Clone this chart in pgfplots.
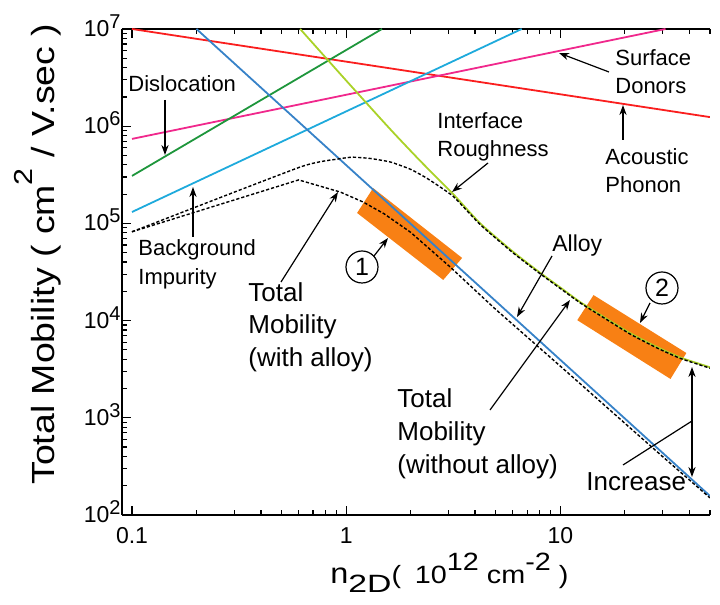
\documentclass[border=0pt]{standalone}
\usepackage{fontspec}
\setmainfont{Liberation Sans}
\usepackage{pgfplots}
\pgfplotsset{compat=1.18}
\usetikzlibrary{arrows.meta}
\definecolor{cRed}{RGB}{250,30,30}
\definecolor{cPink}{RGB}{240,40,140}
\definecolor{cGreen}{RGB}{30,150,60}
\definecolor{cCyan}{RGB}{30,170,220}
\definecolor{cBlue}{RGB}{55,130,200}
\definecolor{cYG}{RGB}{170,210,40}
\definecolor{cOrange}{RGB}{248,128,20}
\newcommand\tl[1]{10\raisebox{4pt}{\fontsize{10}{10}\selectfont #1}}
\begin{document}
\begin{tikzpicture}
\path (-61pt,-45pt) rectangle (299pt,257.5pt);
\begin{axis}[
  xmode=log, ymode=log,
  scale only axis, width=294pt, height=243pt,
  at={(0,0)}, anchor=south west,
  xmin=0.0898, xmax=50, ymin=100, ymax=1e7,
  axis x line*=box, axis y line*=left,
  axis line style={line width=0.8pt},
  xtick={0.1,1,10}, xticklabels={0.1,1,10},
  minor xtick={0.2,0.3,0.4,0.5,0.6,0.7,0.8,0.9,2,3,4,5,6,7,8,9,20,30,40,50},
  ytick={1e2,1e3,1e4,1e5,1e6,1e7},
  yticklabels={\tl{2},\tl{3},\tl{4},\tl{5},\tl{6},\tl{7}},
  minor ytick={200,300,400,500,600,700,800,900,
    2000,3000,4000,5000,6000,7000,8000,9000,
    20000,30000,40000,50000,60000,70000,80000,90000,
    200000,300000,400000,500000,600000,700000,800000,900000,
    2000000,3000000,4000000,5000000,6000000,7000000,8000000,9000000},
  tick align=inside,
  major tick length=4.5pt, minor tick length=2.5pt,
  tick style={line width=0.6pt, black},
  ticklabel style={font=\fontsize{11.5}{13}\selectfont},
  xticklabel style={anchor=north, inner sep=0pt, yshift=-6pt},
  yticklabel style={anchor=base east, inner sep=0pt, xshift=-0.5pt, yshift=-3.75pt},
]
% orange regions
\addplot[fill=cOrange, draw=none] coordinates {(1.336,2.31e5) (3.48,4.41e4) (2.84,2.62e4) (1.125,1.28e5)} -- cycle;
\addplot[fill=cOrange, draw=none] coordinates {(14.3,1.83e4) (38.8,4.64e3) (32.7,2.51e3) (12.0,1.01e4)} -- cycle;
% scattering mechanisms
\addplot[cRed, line width=0.9pt] coordinates {(0.1,1e7) (50,1.24e6)};
\addplot[cPink, line width=0.9pt] coordinates {(0.1,7.4e5) (31,1e7)};
\addplot[cGreen, line width=0.9pt] coordinates {(0.1,3.08e5) (1.47,1e7)};
\addplot[cCyan, line width=0.9pt] coordinates {(0.1,1.31e5) (6.6,1e7)};
\addplot[cBlue, line width=0.9pt] coordinates {(0.2,1e7) (50,157)};
\addplot[cYG, line width=0.9pt, smooth, tension=0.4] coordinates {(0.61,1e7) (1.0,2.95e6) (1.607,9.3e5) (2.239,4.3e5) (3.162,2.0e5) (4.227,1.0e5) (6.0,5.13e4) (8.07,3.09e4) (10,2.19e4) (12.39,1.55e4) (15.85,1.10e4) (21.23,7.41e3) (28.18,5.37e3) (36.39,4.17e3) (50,3.31e3)};
% totals
\addplot[black, line width=0.7pt, dash pattern=on 1.6pt off 1pt, smooth, tension=0.3] coordinates {(0.1,8.2e4) (0.61,3.8e5) (0.92,4.6e5) (1.07,4.8e5) (1.3,4.65e5) (1.61,4.28e5) (2.0,3.6e5) (2.39,2.9e5) (3.16,1.9e5) (4.23,9.7e4) (6,5.0e4) (8.07,3.02e4) (10,2.14e4) (12.39,1.52e4) (15.85,1.08e4) (21.23,7.25e3) (28.18,5.25e3) (36.39,4.08e3) (50,3.24e3)};
\addplot[black, line width=0.7pt, dash pattern=on 1.6pt off 1pt] coordinates {(0.1,8.2e4) (0.6,2.8e5) (0.94,2.1e5) (1.2,1.66e5) (1.5,1.26e5) (2,8.1e4) (3.06,3.56e4) (5,1.3e4) (10,3.4e3) (20,8.8e2) (30,4.0e2) (50,1.5e2)};
\end{axis}
\begin{scope}[x=0.5pt,y=-0.5pt,xshift=-61pt,yshift=257.5pt,
  arr/.style={-{Stealth[length=5pt,width=3.6pt]}, line width=0.6pt},
  lab/.style={anchor=base west, inner sep=0pt, font=\fontsize{11}{13}\selectfont},
  big/.style={anchor=base west, inner sep=0pt, font=\fontsize{13}{15}\selectfont}]
\node[lab] at (128,92) {Dislocation};
\draw[arr] (165,100) -- (165,155);
\node[lab] at (138,256) {Background};
\node[lab] at (138,285) {Impurity};
\draw[arr] (193,237) -- (193,187);
\node[lab] at (615,66) {Surface};
\node[lab] at (615,94) {Donors};
\draw[arr] (609,72) -- (559,53);
\node[lab] at (605,165) {Acoustic};
\node[lab] at (605,193) {Phonon};
\draw[arr] (623,140) -- (623,105);
\node[lab] at (437,129) {Interface};
\node[lab] at (437,157) {Roughness};
\draw[arr] (488,163) -- (452,192);
\node[lab, font=\fontsize{11.5}{13}\selectfont] at (552,252) {Alloy};
\draw[arr] (552,256) -- (517,317);
\node[draw, circle, line width=0.6pt, minimum size=16pt, inner sep=0pt, font=\fontsize{12.5}{12}\selectfont] at (362,267) {1};
\draw[arr] (374,256) -- (388,238);
\node[draw, circle, line width=0.6pt, minimum size=16pt, inner sep=0pt, font=\fontsize{12.5}{12}\selectfont] at (662,288) {2};
\draw[arr] (650,303) -- (640,323);
\node[big] at (248,302) {Total};
\node[big] at (248,334) {Mobility};
\node[big] at (248,367) {(with alloy)};
\draw[arr] (281,282) -- (338,192);
\node[big] at (397,408) {Total};
\node[big] at (397,441) {Mobility};
\node[big] at (397,474) {(without alloy)};
\draw[arr] (490,410) -- (570,300);
\node[big] at (586,491) {Increase};
\draw[{Stealth[length=5pt,width=3.6pt]}-{Stealth[length=5pt,width=3.6pt]}, line width=0.6pt] (692,367) -- (692,477);
\draw[line width=0.6pt] (623,465) -- (692,421);
% axis titles
\node[rotate=90, anchor=base west, inner sep=0pt, font=\fontsize{16}{18}\selectfont] at (55,485)
  {\scalebox{1.17}[1]{Total Mobility ( cm\raisebox{11pt}{\fontsize{13}{12}\selectfont 2} / V.sec )}};
\node[anchor=base west, inner sep=0pt] at (330,584)
  {\scalebox{1.12}[1]{\fontsize{14.5}{16}\selectfont n}\raisebox{-4.5pt}{\scalebox{1.35}[1]{\fontsize{12.5}{14}\selectfont 2D}}\scalebox{1.15}[1]{\fontsize{12.5}{14}\selectfont (\hspace{6pt}10\raisebox{6.5pt}{12}\hspace{3.5pt}cm\raisebox{6.5pt}{-2}\hspace{3.5pt})}};
\end{scope}
\end{tikzpicture}
\end{document}
